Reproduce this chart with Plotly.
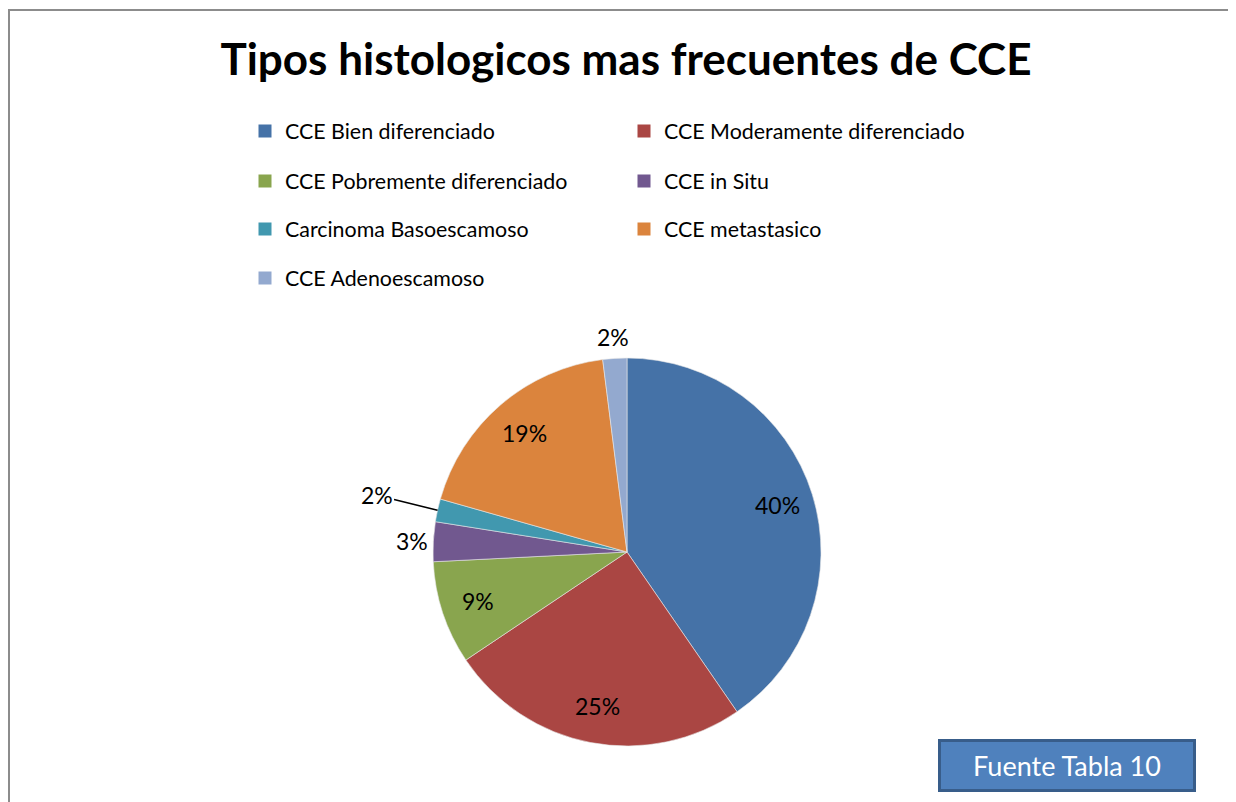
import math
import plotly.graph_objects as go

labels = ["CCE Bien diferenciado", "CCE Moderamente diferenciado",
          "CCE Pobremente diferenciado", "CCE in Situ",
          "Carcinoma Basoescamoso", "CCE metastasico", "CCE Adenoescamoso"]
values = [40.4, 25.2, 8.6, 3.3, 1.9, 18.6, 2.0]
colors = ["#4572A7", "#AA4643", "#89A54E", "#71588F", "#4198AF", "#DB843D", "#93A9CF"]
label_mode = ["inside", "inside", "inside", "outside", "leader", "inside", "outside"]

FW, FH = 1236, 802   # figure size; page has an 8px body margin (offset below)
FONT = "Lato"
CX, CY, R = 627, 552, 194   # pie centre and radius in page pixels


def px(x):
    return (x - 8) / FW


def py(y):
    return 1 - (y - 8) / FH


fig = go.Figure()
fig.add_trace(go.Pie(
    labels=labels, values=values, sort=False, direction="clockwise", rotation=0,
    marker=dict(colors=colors, line=dict(color="#E8E8E8", width=0.6)),
    textinfo="none", showlegend=False,
    domain=dict(x=[px(CX - R), px(CX + R)], y=[py(CY + R), py(CY - R)]),
))

# percentage labels placed at each slice's mid-angle (Excel style)
total = sum(values)
annotations = []
cum = 0.0
for v, mode in zip(values, label_mode):
    mid = (cum + v / 2) / total * 2 * math.pi
    cum += v
    s, c = math.sin(mid), -math.cos(mid)
    txt = f"{round(v / total * 100)}%"
    fnt = dict(family=FONT, size=23, color="black")
    if mode == "inside":
        d = 0.81 * R
        annotations.append(dict(text=txt, xref="paper", yref="paper",
                                x=px(CX + d * s), y=py(CY + d * c), showarrow=False,
                                xanchor="center", yanchor="middle", font=fnt))
    elif mode == "outside":
        d = 1.11 * R
        annotations.append(dict(text=txt, xref="paper", yref="paper",
                                x=px(CX + d * s), y=py(CY + d * c), showarrow=False,
                                xanchor="center", yanchor="middle", font=fnt))
    else:
        annotations.append(dict(text=txt, xref="paper", yref="paper",
                                x=px(CX + R * s), y=py(CY + R * c), showarrow=True,
                                ax=-61, ay=-15, arrowhead=0, arrowwidth=1.5,
                                arrowcolor="black", standoff=0, font=fnt))

annotations.append(dict(text="Fuente Tabla 10", xref="paper", yref="paper",
                        x=px(1067), y=py(765.5), xanchor="center", yanchor="middle",
                        showarrow=False,
                        width=250, height=45, bgcolor="#4F81BD", bordercolor="#385D8A",
                        borderwidth=3, font=dict(family=FONT, size=27, color="white")))

# legend rows (two columns)
rows = [[0, 1], [2, 3], [4, 5], [6]]
row_y = [131, 181, 229, 278]
for r, idxs in enumerate(rows):
    lname = "legend" if r == 0 else f"legend{r + 1}"
    for i in idxs:
        fig.add_trace(go.Scatter(
            x=[None], y=[None], mode="markers", name=labels[i],
            marker=dict(symbol="square", size=13, color=colors[i]),
            legend=lname, showlegend=True))
    fig.layout[lname] = dict(
        orientation="h", x=px(245), xanchor="left", y=py(row_y[r]), yanchor="middle",
        entrywidth=334, entrywidthmode="pixels",
        font=dict(family=FONT, size=21.4, color="black"), bgcolor="rgba(0,0,0,0)")

fig.update_layout(
    width=FW, height=FH, margin=dict(l=0, r=0, t=0, b=0),
    paper_bgcolor="white", plot_bgcolor="white",
    xaxis=dict(visible=False), yaxis=dict(visible=False),
    title=dict(text="<b>Tipos histologicos mas frecuentes de CCE</b>",
               x=px(626), xanchor="center", y=py(60), yanchor="middle",
               font=dict(family=FONT, size=44, color="black")),
    shapes=[dict(type="rect", xref="paper", yref="paper",
                 x0=px(9), x1=px(1260), y0=py(840), y1=py(10),
                 line=dict(color="#8C8C8C", width=2), fillcolor="rgba(0,0,0,0)")],
    annotations=annotations,
)

fig.write_html("out.html", config={"displayModeBar": False},
               post_script="document.documentElement.style.overflow='hidden';"
                           "document.body.style.overflow='hidden';")
